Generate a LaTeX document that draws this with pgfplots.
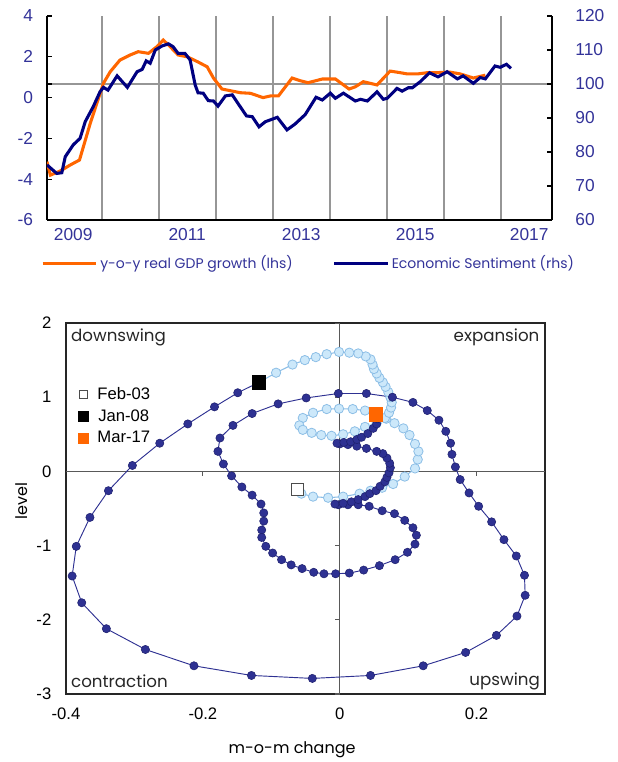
\documentclass[border=0pt]{standalone}
\usepackage{fontspec}
\setmainfont{Liberation Sans}
\newfontfamily\cg{Poppins}
\usepackage{pgfplots}
\pgfplotsset{compat=1.18}

\definecolor{tickblue}{RGB}{51,51,153}
\definecolor{gdporange}{RGB}{255,102,0}
\definecolor{esinavy}{RGB}{0,0,128}
\definecolor{gridgray}{RGB}{150,150,150}
\definecolor{lbfill}{RGB}{204,232,250}
\definecolor{lbedge}{RGB}{140,190,230}
\definecolor{dotfill}{RGB}{46,49,146}
\definecolor{dotedge}{RGB}{30,32,110}

\begin{document}
\begin{tikzpicture}
\useasboundingbox (0,0) rectangle (462.75pt,-571.5pt);

% ---- top panel, lhs: GDP growth
\begin{axis}[
  at={(35.25pt,-12pt)}, anchor=north west,
  scale only axis, width=378.75pt, height=153pt,
  xmin=2008.54, xmax=2017.40, ymin=-6, ymax=4,
  axis x line*=bottom, axis y line*=left,
  axis line style={black, line width=0.9pt},
  xtick={2009,2011,2013,2015,2017},
  xticklabels={2009,2011,2013,2015,2017},
  xtick style={draw=none},
  minor xtick={2009.5,2010.5,2011.5,2012.5,2013.5,2014.5,2015.5,2016.5},
  minor tick length=0pt,
  xminorgrids, minor grid style={gridgray, line width=1.4pt},
  ytick={-6,-4,...,4}, ytick align=inside, major tick length=4pt,
  ytick style={black, line width=0.8pt},
  extra y ticks={0.6667}, extra y tick labels={},
  extra y tick style={grid=major},
  major grid style={gridgray, line width=1.4pt},
  tick label style={text=tickblue, font=\fontsize{13}{15}\selectfont},
  /pgf/number format/assume math mode=true,
  yticklabel style={xshift=-7pt},
  xticklabel style={yshift=-3pt},
  legend style={at={(axis description cs:-0.012,-0.211)}, anchor=west,
    draw=none, fill=none, inner sep=0pt, legend columns=2,
    font=\cg\fontsize{10.5}{12}\selectfont, text=tickblue,
    /tikz/every even column/.append style={column sep=28pt}},
  legend image code/.code={\draw[#1] (0pt,0pt) -- (40pt,0pt);},
]
\addplot[gdporange, line width=2.3pt] coordinates {
(2008.54,-3.14) (2008.60,-3.80) (2008.77,-3.60) (2008.95,-3.30) (2009.11,-3.06)
(2009.30,-1.25) (2009.53,0.70) (2009.65,1.27) (2009.82,1.84) (2010.00,2.09)
(2010.14,2.25) (2010.32,2.17) (2010.47,2.50) (2010.58,2.82) (2010.70,2.50)
(2010.84,2.09) (2011.00,2.00) (2011.18,1.76) (2011.35,1.51) (2011.46,0.96)
(2011.61,0.42) (2011.79,0.32) (2011.93,0.24) (2012.11,0.21) (2012.33,0.00)
(2012.46,0.08) (2012.60,0.08) (2012.84,0.96) (2012.98,0.83) (2013.12,0.73)
(2013.37,0.91) (2013.60,0.91) (2013.84,0.42) (2013.95,0.53) (2014.09,0.78)
(2014.33,0.62) (2014.56,1.30) (2014.74,1.22) (2014.86,1.16) (2015.04,1.16)
(2015.21,1.22) (2015.35,1.22) (2015.61,1.25) (2015.79,1.16) (2016.02,0.96)
(2016.23,1.10)
};
\addlegendentry{y-o-y real GDP growth (lhs)}
\addlegendimage{esinavy, line width=2.3pt}
\addlegendentry{Economic Sentiment (rhs)}
\end{axis}

% ---- top panel, rhs: economic sentiment
\begin{axis}[
  at={(35.25pt,-12pt)}, anchor=north west,
  scale only axis, width=378.75pt, height=153pt,
  xmin=2008.54, xmax=2017.40, ymin=60, ymax=120,
  axis y line*=right, axis x line=none,
  axis line style={black, line width=0.9pt},
  ytick={60,70,...,120}, ytick align=inside, major tick length=4pt,
  ytick style={black, line width=0.8pt},
  tick label style={text=tickblue, font=\fontsize{13}{15}\selectfont},
  /pgf/number format/assume math mode=true,
  yticklabel style={xshift=14pt},
]
\addplot[esinavy, line width=2.3pt] coordinates {
(2008.54,76.2) (2008.71,73.7) (2008.80,73.9) (2008.86,78.6) (2009.00,82.1)
(2009.12,84.0) (2009.21,88.9) (2009.35,93.3) (2009.47,97.7) (2009.53,99.0)
(2009.61,98.2) (2009.77,102.4) (2009.95,99.0) (2010.12,103.6) (2010.21,104.3)
(2010.28,106.8) (2010.35,106.1) (2010.44,110.0) (2010.56,111.2) (2010.67,111.8)
(2010.75,111.0) (2010.84,109.0) (2010.96,109.0) (2011.05,107.1) (2011.14,99.7)
(2011.19,97.4) (2011.28,97.3) (2011.37,95.1) (2011.46,95.0) (2011.54,93.5)
(2011.67,96.5) (2011.79,96.8) (2011.89,94.3) (2012.04,90.6) (2012.14,90.4)
(2012.26,87.4) (2012.37,88.9) (2012.58,90.2) (2012.75,86.5) (2012.89,88.2)
(2013.07,91.0) (2013.26,96.1) (2013.37,95.3) (2013.51,97.3) (2013.60,95.8)
(2013.74,97.3) (2013.95,95.0) (2014.04,95.5) (2014.16,95.0) (2014.33,97.7)
(2014.44,95.5) (2014.51,95.8) (2014.68,98.7) (2014.77,97.9) (2014.88,98.9)
(2014.95,98.9) (2015.09,100.7) (2015.25,103.3) (2015.40,102.1) (2015.56,103.6)
(2015.74,101.5) (2015.84,102.4) (2016.02,100.2) (2016.14,101.9) (2016.23,101.5)
(2016.40,105.3) (2016.49,104.9) (2016.60,105.8) (2016.68,104.6)
};
\end{axis}

% ---- bottom panel: cycle clock
\begin{axis}[
  at={(49.5pt,-242.25pt)}, anchor=north west,
  scale only axis, width=359.25pt, height=278.25pt,
  xmin=-0.4, xmax=0.3, ymin=-3, ymax=2,
  xtick={-0.4,-0.2,0,0.2}, ytick={-3,-2,...,2},
  major tick length=0pt,
  axis line style={black!85, line width=0.8pt},
  tick label style={font=\fontsize{12.5}{14}\selectfont},
  /pgf/number format/assume math mode=true,
  xticklabel style={yshift=-7pt, /pgf/number format/fixed},
  yticklabel style={xshift=-7.5pt},
  xlabel={\cg m-o-m change},
  xlabel style={at={(axis description cs:0.472,-0.151)}, anchor=center,
    font=\fontsize{12}{14}\selectfont},
  ylabel={\cg level},
  ylabel style={at={(axis description cs:-0.092,0.52)}, anchor=center,
    font=\fontsize{12}{14}\selectfont},
  legend style={at={(axis description cs:0.019,0.834)}, anchor=north west,
    draw=none, fill=none, inner sep=0pt, row sep=2pt,
    font=\fontsize{12.5}{14}\selectfont},
  legend image code/.code={\path[draw=none, fill=none] (0pt,0pt) (14.5pt,0pt);
    \draw[#1] plot coordinates {(6pt,0pt)};},
]
\draw[black!65, line width=0.9pt] (axis cs:0,-3) -- (axis cs:0,2);
\draw[black!65, line width=0.9pt] (axis cs:-0.4,0) -- (axis cs:0.3,0);
\draw[black!65, line width=0.8pt] (axis cs:0,-3) -- ++(-3.75pt,0pt);
\draw[black!65, line width=0.8pt] (axis cs:0,-2) -- ++(-3.75pt,0pt);
\draw[black!65, line width=0.8pt] (axis cs:0,-1) -- ++(-3.75pt,0pt);
\draw[black!65, line width=0.8pt] (axis cs:0,1) -- ++(-3.75pt,0pt);
\draw[black!65, line width=0.8pt] (axis cs:0,2) -- ++(-3.75pt,0pt);
\draw[black!65, line width=0.8pt] (axis cs:-0.2,0) -- ++(0pt,-3.75pt);
\draw[black!65, line width=0.8pt] (axis cs:0.2,0) -- ++(0pt,-3.75pt);

\node[anchor=west, font=\cg\fontsize{12.5}{14}\selectfont, text=black!85]
  at (axis description cs:0.001,0.962) {downswing};
\node[anchor=east, font=\cg\fontsize{12.5}{14}\selectfont, text=black!85]
  at (axis description cs:0.998,0.962) {expansion};
\node[anchor=west, font=\cg\fontsize{12.5}{14}\selectfont, text=black!85]
  at (axis description cs:0.001,0.035) {contraction};
\node[anchor=east, font=\cg\fontsize{12.5}{14}\selectfont, text=black!85]
  at (axis description cs:0.999,0.035) {upswing};

% Feb-03 to Jan-08
\addplot[forget plot, color=lbedge, line width=0.8pt, mark=*, mark size=3.5pt,
  mark options={fill=lbfill, draw=lbedge, line width=0.6pt}] coordinates {
(-0.062,-0.25) (-0.056,-0.30) (-0.039,-0.34) (-0.017,-0.355) (0.005,-0.34)
(0.029,-0.30) (0.045,-0.26) (0.062,-0.22) (0.078,-0.17) (0.095,-0.07)
(0.110,0.04) (0.114,0.16) (0.115,0.27) (0.110,0.37) (0.102,0.49)
(0.093,0.58) (0.080,0.65) (0.068,0.71) (0.053,0.77) (0.037,0.82)
(0.019,0.84) (-0.001,0.845) (-0.019,0.84) (-0.039,0.79) (-0.054,0.72)
(-0.059,0.62) (-0.054,0.56) (-0.041,0.52) (-0.027,0.49) (-0.012,0.48)
(0.005,0.50) (0.022,0.54) (0.037,0.60) (0.054,0.65) (0.066,0.72)
(0.072,0.79) (0.075,0.86) (0.076,0.93) (0.074,1.00) (0.071,1.07)
(0.067,1.14) (0.063,1.20) (0.058,1.26) (0.054,1.32) (0.050,1.38)
(0.048,1.44) (0.045,1.51) (0.038,1.55) (0.027,1.59) (0.014,1.60)
(-0.001,1.61) (-0.019,1.58) (-0.035,1.54) (-0.051,1.50) (-0.069,1.44)
(-0.093,1.33) (-0.118,1.20)
};
% Jan-08 to Mar-17
\addplot[forget plot, color=dotfill, line width=0.7pt, mark=*, mark size=3.1pt,
  mark options={fill=dotfill, draw=dotedge, line width=0.4pt}] coordinates {
(-0.118,1.20) (-0.149,1.06) (-0.183,0.87) (-0.222,0.64) (-0.263,0.38)
(-0.303,0.08) (-0.338,-0.26) (-0.365,-0.62) (-0.385,-1.01) (-0.391,-1.41)
(-0.377,-1.77) (-0.341,-2.12) (-0.284,-2.40) (-0.213,-2.62) (-0.129,-2.75)
(-0.040,-2.79) (0.045,-2.75) (0.122,-2.62) (0.184,-2.44) (0.229,-2.21)
(0.259,-1.95) (0.271,-1.67) (0.270,-1.40) (0.258,-1.14) (0.240,-0.92)
(0.222,-0.68) (0.203,-0.47) (0.189,-0.29) (0.176,-0.11) (0.169,0.06)
(0.164,0.23) (0.162,0.38) (0.155,0.54) (0.145,0.69) (0.128,0.82)
(0.107,0.93) (0.077,1.00) (0.039,1.05) (-0.002,1.05) (-0.049,0.99)
(-0.090,0.91) (-0.128,0.78) (-0.156,0.62) (-0.175,0.45) (-0.178,0.27)
(-0.170,0.10) (-0.158,-0.06) (-0.143,-0.21) (-0.128,-0.32) (-0.115,-0.44)
(-0.111,-0.56) (-0.111,-0.67) (-0.114,-0.79) (-0.114,-0.89) (-0.108,-1.01)
(-0.098,-1.10) (-0.085,-1.19) (-0.071,-1.26) (-0.055,-1.31) (-0.038,-1.36)
(-0.023,-1.38) (-0.006,-1.38) (0.014,-1.37) (0.035,-1.33) (0.058,-1.27)
(0.081,-1.19) (0.099,-1.09) (0.110,-0.98) (0.112,-0.86) (0.107,-0.76)
(0.095,-0.66) (0.080,-0.57) (0.062,-0.53) (0.043,-0.47) (0.027,-0.45)
(0.012,-0.45) (-0.002,-0.45) (-0.007,-0.44) (0.005,-0.43) (0.017,-0.41)
(0.027,-0.38) (0.037,-0.34) (0.044,-0.30) (0.053,-0.26) (0.059,-0.20)
(0.066,-0.14) (0.069,-0.08) (0.072,-0.02) (0.074,0.05) (0.073,0.11)
(0.069,0.18) (0.063,0.24) (0.054,0.27) (0.039,0.31) (0.025,0.34)
(0.012,0.36) (0.000,0.37) (-0.004,0.38) (0.006,0.39) (0.016,0.40)
(0.025,0.43) (0.032,0.46) (0.041,0.51) (0.049,0.58) (0.054,0.64)
(0.055,0.71) (0.053,0.77)
};
\addplot[forget plot, only marks, mark=square*, mark size=4.5pt,
  mark options={fill=white, draw=black!70, line width=0.8pt}]
  coordinates {(-0.062,-0.25)};
\addplot[forget plot, only marks, mark=square*, mark size=5pt,
  mark options={fill=black, draw=black}] coordinates {(-0.118,1.20)};
\addplot[forget plot, only marks, mark=square*, mark size=5pt,
  mark options={fill=gdporange, draw=gdporange}] coordinates {(0.053,0.77)};

\addlegendimage{only marks, mark=square*, mark size=3pt,
  mark options={fill=white, draw=black!70, line width=0.6pt}}
\addlegendentry{Feb-03}
\addlegendimage{only marks, mark=square*, mark size=3.6pt,
  mark options={fill=black, draw=black}}
\addlegendentry{Jan-08}
\addlegendimage{only marks, mark=square*, mark size=3.6pt,
  mark options={fill=gdporange, draw=gdporange}}
\addlegendentry{Mar-17}
\end{axis}
\end{tikzpicture}
\end{document}
